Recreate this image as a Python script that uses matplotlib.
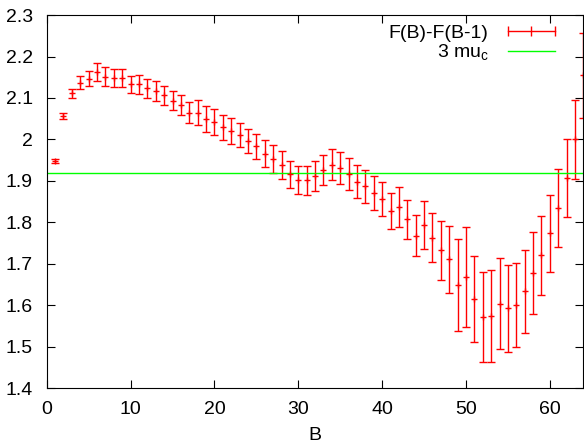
import matplotlib
matplotlib.use("Agg")
import matplotlib.pyplot as plt
from matplotlib.lines import Line2D
from matplotlib.ticker import FuncFormatter
import numpy as np

plt.rcParams['font.family'] = ['Liberation Sans', 'DejaVu Sans']

# F(B)-F(B-1), B = 1..64
B = np.arange(1, 65)
dF = [1.948, 2.057, 2.111, 2.137, 2.147, 2.162, 2.151, 2.149, 2.148, 2.133,
      2.133, 2.123, 2.117, 2.107, 2.093, 2.083, 2.065, 2.064, 2.050, 2.042,
      2.029, 2.021, 2.010, 1.997, 1.983, 1.966, 1.952, 1.938, 1.916, 1.902,
      1.901, 1.912, 1.926, 1.939, 1.931, 1.916, 1.898, 1.887, 1.871, 1.857,
      1.827, 1.837, 1.807, 1.768, 1.794, 1.763, 1.732, 1.711, 1.648, 1.668,
      1.614, 1.571, 1.574, 1.604, 1.592, 1.600, 1.633, 1.677, 1.720, 1.773,
      1.835, 1.907, 2.000, 2.155]
dF_err = [0.005, 0.008, 0.011, 0.016, 0.019, 0.022, 0.023, 0.022, 0.022, 0.021,
          0.023, 0.022, 0.024, 0.023, 0.023, 0.025, 0.026, 0.030, 0.031, 0.032,
          0.031, 0.031, 0.029, 0.029, 0.030, 0.033, 0.034, 0.033, 0.033, 0.033,
          0.035, 0.037, 0.037, 0.038, 0.038, 0.039, 0.040, 0.040, 0.041, 0.041,
          0.044, 0.048, 0.048, 0.050, 0.058, 0.060, 0.071, 0.081, 0.111, 0.121,
          0.104, 0.109, 0.112, 0.110, 0.106, 0.101, 0.099, 0.099, 0.095, 0.094,
          0.094, 0.094, 0.096, 0.103]
mu_c3 = 1.92

fig = plt.figure(figsize=(5.84, 4.45), dpi=100)
ax = fig.add_axes([0.080, 0.128, 0.919, 0.838])

ax.errorbar(B, dF, yerr=dF_err, fmt='+', color='#ff0000', ms=5, mew=1,
            elinewidth=1, capsize=3, capthick=1)
ax.axhline(mu_c3, color='#00ff00', lw=1)

ax.set_xlim(0, 64)
ax.set_ylim(1.4, 2.3)
ax.set_xticks(np.arange(0, 61, 10))
ax.set_yticks(np.arange(1.4, 2.31, 0.1))
ax.yaxis.set_major_formatter(FuncFormatter(lambda v, p: '%g' % round(v, 2)))
ax.tick_params(direction='in', length=6, top=True, right=True, labelsize=14, pad=9)
ax.tick_params(axis='y', pad=10)
ax.set_xlabel('B', fontsize=14, labelpad=7)

h1 = Line2D([], [], color='#ff0000', lw=1, marker='|', ms=7, mew=1)
h2 = Line2D([], [], color='#00ff00', lw=1)
ax.legend([h1, h2], ['F(B)-F(B-1)', r'3 mu$_\mathregular{c}$'], loc='upper right',
          bbox_to_anchor=(0.99, 0.985), bbox_transform=fig.transFigure,
          frameon=False, markerfirst=False, numpoints=3, fontsize=14,
          handlelength=3.0, handletextpad=0.7, labelspacing=0.05)

fig.savefig('out.png', dpi=100)
